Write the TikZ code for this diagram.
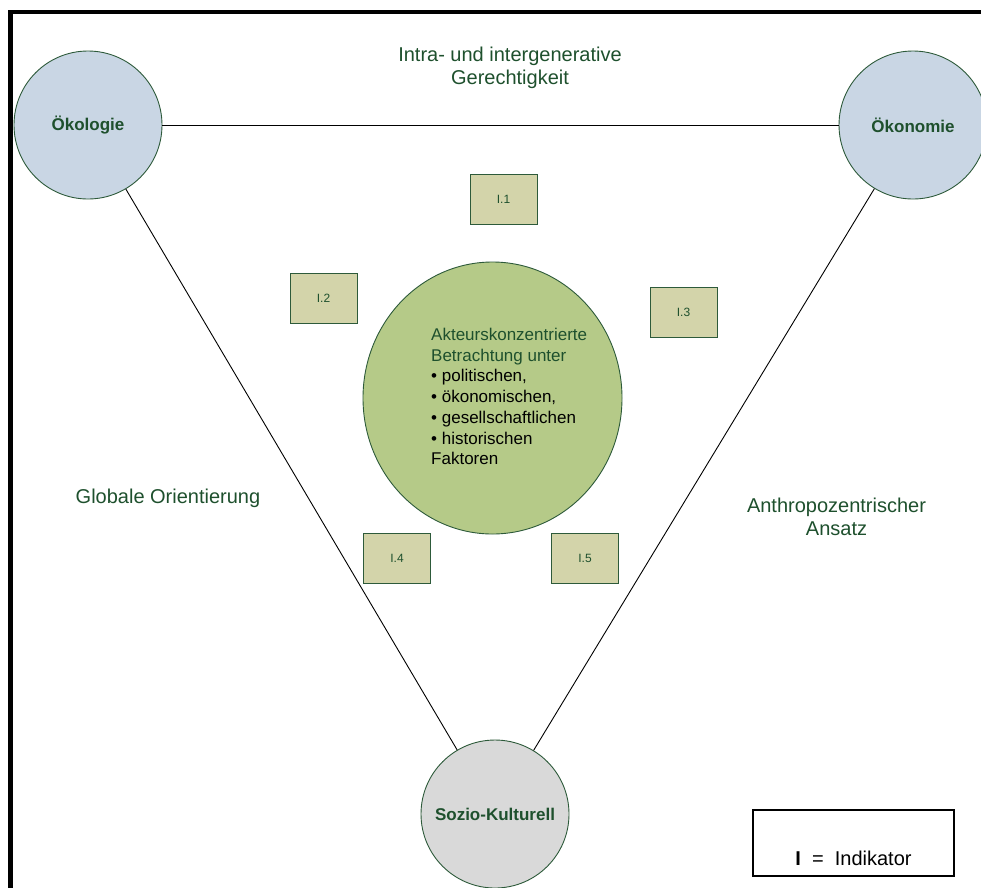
\documentclass[tikz,border=0pt]{standalone}
\usepackage{fontspec}
\setmainfont{Liberation Sans}
\usepackage{tikz}
\usetikzlibrary{shapes.geometric, positioning}
\definecolor{labelGreen}{RGB}{30, 80, 45}
\definecolor{edgeGreen}{RGB}{45, 90, 58}
\definecolor{pillarBlue}{RGB}{201, 214, 228}
\definecolor{pillarGray}{RGB}{217, 217, 217}
\definecolor{centerFill}{RGB}{181, 202, 136}
\definecolor{boxFill}{RGB}{211, 212, 170}
\newcommand{\bigFont}{\fontsize{20}{23}\selectfont}
\newcommand{\midFont}{\fontsize{17}{20.7}\selectfont}
\tikzstyle{line} = [line width=0.9pt, black]
\tikzstyle{frame} = [line width=4.5pt, black]
\tikzstyle{pillar} = [circle, minimum size=148pt, inner sep=0pt, draw=edgeGreen, line width=0.9pt, text=labelGreen, font=\midFont\bfseries]
\tikzstyle{bluestyle} = [fill=pillarBlue]
\tikzstyle{graystyle} = [fill=pillarGray]
\tikzstyle{indicator} = [rectangle, minimum width=67pt, minimum height=50pt, draw=edgeGreen, line width=0.9pt, fill=boxFill, text=labelGreen, font=\fontsize{12}{14}\selectfont]
\tikzstyle{caption} = [text=labelGreen, align=center, font=\bigFont]

\begin{document}
\begin{tikzpicture}[x=1pt, y=-1pt]
\useasboundingbox (0,0) rectangle (981,887);
\draw [frame] (10.5,12) rectangle (1000,900);

\node (oekologie) [pillar, bluestyle] at(88,125) {Ökologie};
\node (oekonomie) [pillar, bluestyle] at(913,125) {Ökonomie};
\node (sozio) [pillar, graystyle] at(495,814) {Sozio-Kulturell};
\draw [line] (oekologie) -- (oekonomie);
\draw [line] (oekologie) -- (sozio);
\draw [line] (oekonomie) -- (sozio);

\node (justice) [caption] at(510,68) {Intra- und intergenerative\\Gerechtigkeit};
\node (global) [caption, anchor=base] at(168,503) {Globale Orientierung};
\node (anthro) [caption] at(836.5,517) {Anthropozentrischer\\Ansatz};

\node (actor) [ellipse, minimum width=259pt, minimum height=272pt, draw=edgeGreen, line width=0.9pt, fill=centerFill] at(492.5,398) {};
\node (actorText) [anchor=north west, inner sep=0pt, align=left, font=\midFont] at(431,328) {\textcolor{labelGreen}{Akteurskonzentrierte}\\\textcolor{labelGreen}{Betrachtung unter}\\\textbullet{} politischen,\\\textbullet{} ökonomischen,\\\textbullet{} gesellschaftlichen\\\textbullet{} historischen\\Faktoren};

\node (ind1) [indicator] at(503.5,199) {I.1};
\node (ind2) [indicator] at(323.5,298) {I.2};
\node (ind3) [indicator] at(683.5,312.5) {I.3};
\node (ind4) [indicator] at(397,558.5) {I.4};
\node (ind5) [indicator] at(585,558.5) {I.5};

\node (legend) [rectangle, draw=black, line width=1.2pt, minimum width=201pt, minimum height=66pt] at(853.5,843) {};
\node (legendText) [anchor=base, yshift=11pt, font=\bigFont] at(legend.south) {\textbf{I}\ \ =\ \ Indikator};

\end{tikzpicture}
\end{document}
